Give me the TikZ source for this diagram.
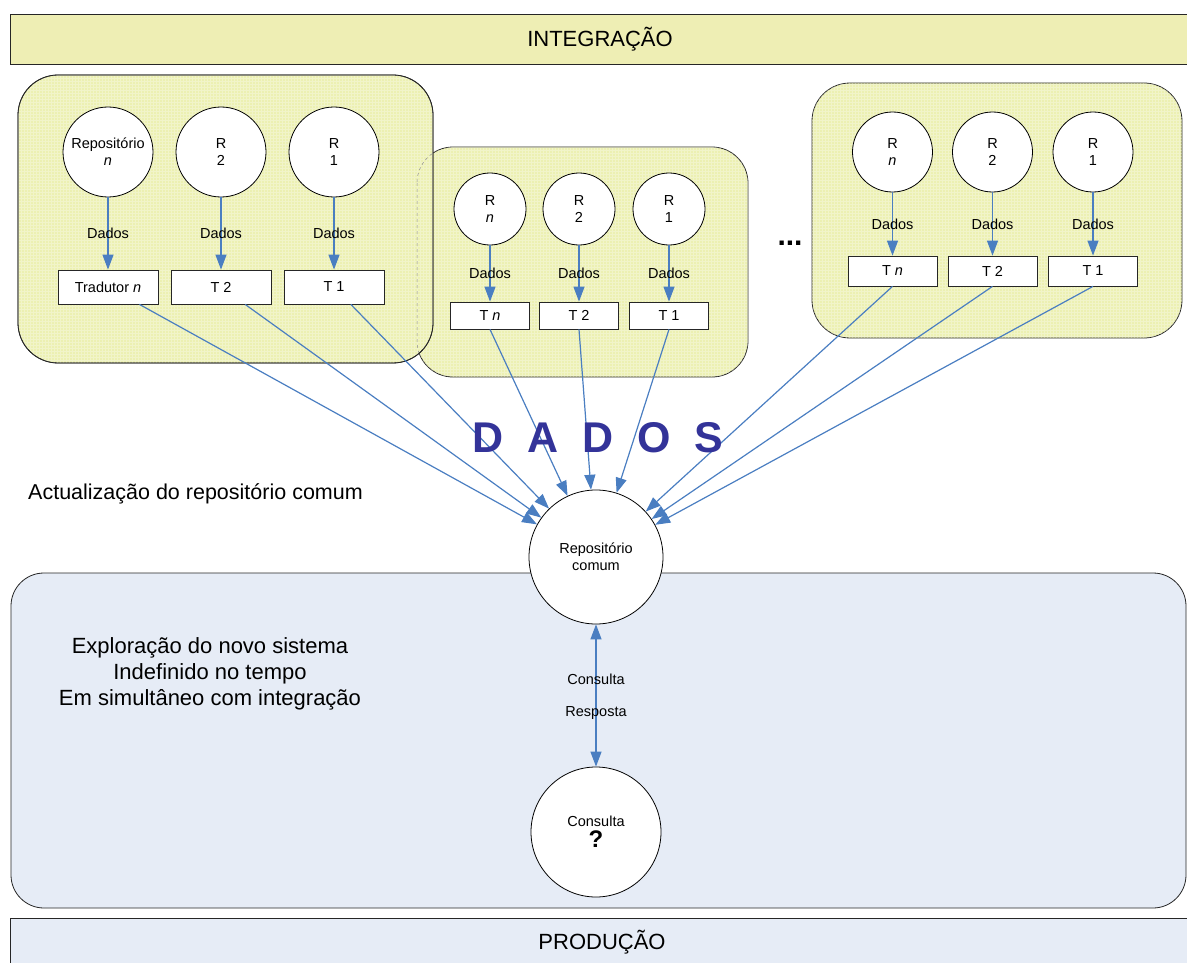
\documentclass[tikz,border=0pt]{standalone}
\usepackage{fontspec}
\setmainfont{Liberation Sans}
\usetikzlibrary{arrows.meta}
\definecolor{bandyellow}{RGB}{238,238,180}
\definecolor{groupyellow}{RGB}{236,240,178}
\definecolor{prodblue}{RGB}{230,236,246}
\definecolor{flowblue}{RGB}{74,126,193}
\definecolor{dadosblue}{RGB}{51,51,153}
\begin{document}
\begin{tikzpicture}[x=1pt,y=-1pt,
  txt/.style={font=\fontsize{14.5}{17}\selectfont},
  big/.style={font=\fontsize{22}{26}\selectfont},
  repo/.style={circle, draw=black, line width=0.8pt, fill=white, inner sep=0pt, align=center, txt},
  tbox/.style={rectangle, draw=black!85, line width=0.8pt, fill=white, inner sep=0pt, txt},
  flow/.style={draw=flowblue, line width=1.2pt, -{Triangle[length=15pt,width=11pt]}},
  twoway/.style={draw=flowblue, line width=1.2pt, {Triangle[length=15pt,width=11pt]}-{Triangle[length=15pt,width=11pt]}},
  group/.style={draw=black!85, line width=0.8pt, fill=groupyellow},
  band/.style={draw=black!85, line width=0.8pt},
  texture/.style={white, opacity=0.3, line width=0.5pt},
]
\useasboundingbox (0,0) rectangle (1187,963);

% --- bands and background panels ---
\path[band, fill=bandyellow] (10,14) rectangle (1195,64);
\node[big, anchor=base] (integ) at (600,47) {INTEGRAÇÃO};

\path[band, fill=prodblue, rounded corners=33pt] (11,573) rectangle (1186,908);
\path[band, fill=prodblue] (10,918) rectangle (1195,975);
\node[big, anchor=base] (prod) at (602,949) {PRODUÇÃO};

% middle source group (behind the left one)
\path[group, rounded corners=36pt] (417,147) rectangle (748,377);
\begin{scope}
  \clip[rounded corners=36pt] (417,147) rectangle (748,377);
  \draw[texture, step=3pt] (417,147) grid (748,377);
\end{scope}

% left source group
\path[group, rounded corners=40pt] (18,75) rectangle (433,363);
\begin{scope}
  \clip[rounded corners=40pt] (18,75) rectangle (433,363);
  \draw[texture, step=3pt] (18,75) grid (433,363);
  \draw[black!45, dashed, line width=0.5pt, rounded corners=36pt] (417,147) rectangle (748,377);
\end{scope}
\draw[black!85, line width=0.8pt, rounded corners=40pt] (18,75) rectangle (433,363);

% right source group
\path[group, rounded corners=38pt] (812,83) rectangle (1182,338);
\begin{scope}
  \clip[rounded corners=38pt] (812,83) rectangle (1182,338);
  \draw[texture, step=3pt] (812,83) grid (1182,338);
\end{scope}

% --- left group ---
\node[repo, minimum size=90pt] (la) at (108,152) {Repositório\\\textit{n}};
\node[repo, minimum size=90pt] (lb) at (221,152) {R\\2};
\node[repo, minimum size=90pt] (lc) at (334,152) {R\\1};
\node[tbox, minimum width=100pt, minimum height=34pt] (ta) at (108,287) {Tradutor \textit{n}};
\node[tbox, minimum width=100pt, minimum height=34pt] (tb) at (221,287) {T 2};
\node[tbox, minimum width=100pt, minimum height=34pt] (tc) at (334,287) {T 1};
\draw[flow] (la) -- node[txt] (da) {Dados} (ta);
\draw[flow] (lb) -- node[txt] (db) {Dados} (tb);
\draw[flow] (lc) -- node[txt] (dc) {Dados} (tc);

% --- middle group ---
\node[repo, minimum size=72pt] (ma) at (490,209) {R\\\textit{n}};
\node[repo, minimum size=72pt] (mb) at (579,209) {R\\2};
\node[repo, minimum size=72pt] (mc) at (669,209) {R\\1};
\node[tbox, minimum width=79pt, minimum height=27pt] (ua) at (490,315.5) {T \textit{n}};
\node[tbox, minimum width=79pt, minimum height=27pt] (ub) at (579,315.5) {T 2};
\node[tbox, minimum width=79pt, minimum height=27pt] (uc) at (669,315.5) {T 1};
\draw[flow] (ma) -- node[txt] (ea) {Dados} (ua);
\draw[flow] (mb) -- node[txt] (eb) {Dados} (ub);
\draw[flow] (mc) -- node[txt] (ec) {Dados} (uc);

\node[font=\fontsize{30}{30}\selectfont\bfseries] (dots) at (790,243) {...};

% --- right group ---
\node[repo, minimum size=80pt] (ra) at (892.5,152) {R\\\textit{n}};
\node[repo, minimum size=80pt] (rb) at (992.5,152) {R\\2};
\node[repo, minimum size=80pt] (rr) at (1093,152) {R\\1};
\node[tbox, minimum width=89pt, minimum height=30pt] (va) at (892.5,271) {T \textit{n}};
\node[tbox, minimum width=89pt, minimum height=30pt] (vb) at (992.5,271) {T 2};
\node[tbox, minimum width=89pt, minimum height=30pt] (vc) at (1093,271) {T 1};
\draw[flow] (ra) -- node[txt] (fa) {Dados} (va);
\draw[flow] (rb) -- node[txt] (fb) {Dados} (vb);
\draw[flow] (rr) -- node[txt] (fc) {Dados} (vc);

% --- common repository and query ---
\node[repo, minimum size=134pt] (rc) at (596,557) {Repositório\\comum};
\node[repo, minimum size=130pt] (cq) at (596,832) {Consulta\\[4pt]{\fontsize{24}{24}\selectfont\bfseries ?}};

\draw[flow] (ta) -- (rc);
\draw[flow] (tb) -- (rc);
\draw[flow] (tc) -- (rc);
\draw[flow] (ua.south) -- (rc);
\draw[flow] (ub.south) -- (rc);
\draw[flow] (uc.south) -- (rc);
\draw[flow] (va.south) -- (rc);
\draw[flow] (vb.south) -- (rc);
\draw[flow] (vc.south) -- (rc);

\draw[twoway] (rc) -- (cq);
\node[txt] (lq) at (596,679) {Consulta};
\node[txt] (lr) at (596,713) {Resposta};

% --- free texts ---
\node[font=\fontsize{43}{43}\selectfont\bfseries, text=dadosblue, anchor=west, inner sep=0pt] (dados) at (472,438)
  {D\hspace{24pt}A\hspace{24pt}D\hspace{24pt}O\hspace{24pt}S};
\node[font=\fontsize{21.5}{26}\selectfont, anchor=base west, inner sep=0pt] (actual) at (28,499) {Actualização do repositório comum};
\node[big, align=center] (explor) at (210,674) {Exploração do novo sistema\\Indefinido no tempo\\Em simultâneo com integração};
\end{tikzpicture}
\end{document}
